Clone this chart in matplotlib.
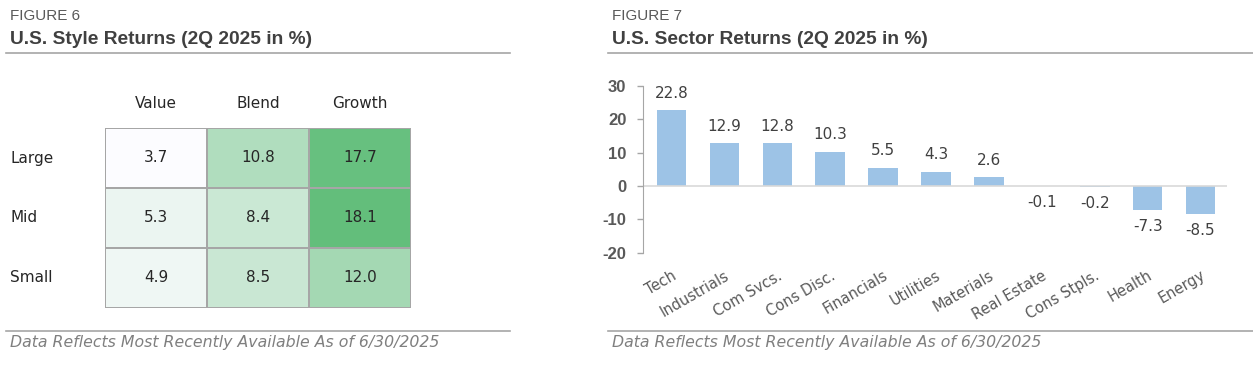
import numpy as np
import matplotlib
matplotlib.use('Agg')
import matplotlib.pyplot as plt
import matplotlib.transforms as mtransforms
from matplotlib import font_manager
from matplotlib.colors import LinearSegmentedColormap, Normalize
from matplotlib.lines import Line2D

# style returns table
styles = ['Value', 'Blend', 'Growth']
sizes = ['Large', 'Mid', 'Small']
style_vals = np.array([[3.7, 10.8, 17.7],
                       [5.3, 8.4, 18.1],
                       [4.9, 8.5, 12.0]])

# sector returns
sectors = ['Tech', 'Industrials', 'Com Svcs.', 'Cons Disc.', 'Financials', 'Utilities',
           'Materials', 'Real Estate', 'Cons Stpls.', 'Health', 'Energy']
sector_vals = [22.8, 12.9, 12.8, 10.3, 5.5, 4.3, 2.6, -0.1, -0.2, -7.3, -8.5]
yticks = [-20, -10, 0, 10, 20, 30]

footnote = 'Data Reflects Most Recently Available As of 6/30/2025'

names = {f.name for f in font_manager.fontManager.ttflist}
narrow = 'Liberation Sans Narrow' if 'Liberation Sans Narrow' in names else 'Liberation Sans'
body = 'DejaVu Sans'

W, H = 1253, 367
fig = plt.figure(figsize=(W / 100, H / 100), dpi=100)

def fx(px):
    return px / W

def fy(py):
    return 1 - py / H

def hline(x0, x1, py):
    fig.add_artist(Line2D([fx(x0), fx(x1)], [fy(py), fy(py)], color='#A6A6A6', lw=1.2,
                          transform=fig.transFigure))

# headers
for x0, x1, num, title in [(6, 510, 6, 'U.S. Style Returns (2Q 2025 in %)'),
                           (608, 1253, 7, 'U.S. Sector Returns (2Q 2025 in %)')]:
    fig.text(fx(x0 + 4), fy(16), 'FIGURE %d' % num, fontsize=11, color='#595959',
             family='Liberation Sans', va='center')
    fig.text(fx(x0 + 4), fy(40), title, fontsize=13.8,
             fontweight='bold', color='#404040', family='Liberation Sans', va='center')
    hline(x0, x1, 53)
    hline(x0, x1, 331)
    fig.text(fx(x0 + 4), fy(342), footnote, fontsize=11.3, style='italic', color='#7F7F7F',
             family=body, va='center')

# Figure 6: heatmap table
ax1 = fig.add_axes([fx(105), fy(308), fx(306), 180 / H])
cmap = LinearSegmentedColormap.from_list('wg', ['#FCFCFF', '#63BE7B'])
norm = Normalize(vmin=style_vals.min(), vmax=style_vals.max())
ax1.pcolormesh(style_vals, cmap=cmap, norm=norm, edgecolors='#A6A6A6', linewidth=1.2)
ax1.set_xlim(0, 3)
ax1.set_ylim(3, 0)
for i in range(3):
    for j in range(3):
        ax1.text(j + 0.5, i + 0.5, '%.1f' % style_vals[i, j], ha='center', va='center',
                 fontsize=11, color='#262626', family=body)
ax1.set_xticks(np.arange(3) + 0.5)
ax1.set_xticklabels(styles, fontsize=11, color='#262626', family=body)
ax1.xaxis.tick_top()
ax1.tick_params(axis='x', length=0, pad=12)
ax1.set_yticks([])
row_tr = mtransforms.blended_transform_factory(fig.transFigure, ax1.transData)
for i, name in enumerate(sizes):
    ax1.text(fx(10), i + 0.5, name, transform=row_tr, ha='left', va='center',
             fontsize=11, color='#262626', family=body)
for s in ax1.spines.values():
    s.set_visible(False)

# Figure 7: sector bars
ax2 = fig.add_axes([fx(643), fy(252.6), fx(584), 166.6 / H])
x = np.arange(len(sectors))
ax2.bar(x, sector_vals, width=0.56, color='#9DC3E6')
ax2.set_xlim(-0.54, 10.5)
ax2.set_ylim(-20, 30)
ax2.set_yticks(yticks)
ax2.set_yticklabels([str(t) for t in yticks], fontsize=12, fontweight='bold',
                    color='#595959', family=narrow)
ax2.tick_params(axis='y', length=4, width=1, color='#A6A6A6', pad=8)
ax2.axhline(0, color='#D9D9D9', lw=1.2)
for k in ['top', 'right', 'bottom']:
    ax2.spines[k].set_visible(False)
ax2.spines['left'].set_color('#A6A6A6')
ax2.set_xticks(x)
ax2.set_xticklabels(sectors, rotation=30, ha='right', rotation_mode='anchor',
                    fontsize=10.5, color='#595959', family=body)
ax2.tick_params(axis='x', length=0, pad=11)
for xi, v in zip(x, sector_vals):
    off = 12 if v >= 0 else -12
    ax2.annotate('%.1f' % v, (xi, v), xytext=(0, off), textcoords='offset points',
                 ha='center', va='center', fontsize=11, color='#404040', family=body)

fig.savefig('out.png', dpi=100)
